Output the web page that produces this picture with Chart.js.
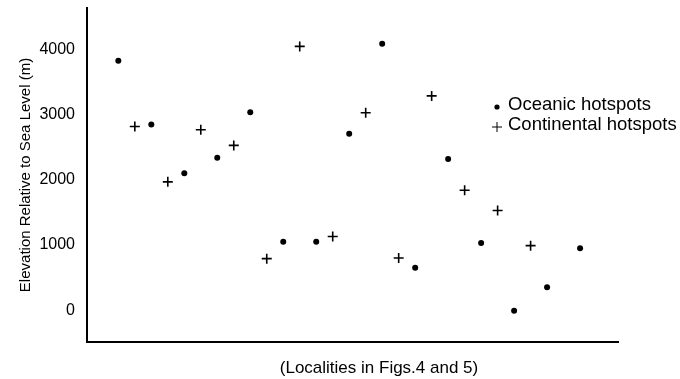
<!DOCTYPE html>
<html>
<head>
<meta charset="utf-8">
<script src="https://cdn.jsdelivr.net/npm/chart.js@4.4.0/dist/chart.umd.min.js"></script>
<style>
  html, body { margin: 0; padding: 0; background: #fff; }
  #chart { display: block; }
</style>
</head>
<body>
<canvas id="chart" width="680" height="379"></canvas>
<script>
// Localities are numbered along the x axis (no tick labels in the original)
var oceanicLocality = [1, 3, 5, 7, 9, 11, 13, 15, 17, 19, 21, 23, 25, 27, 29];
var oceanicElevation = [3830, 2850, 2100, 2340, 3040, 1050, 1050, 2710, 4090, 650, 2320, 1030, -10, 350, 950];
var continentalLocality = [2, 4, 6, 8, 10, 12, 14, 16, 18, 20, 22, 24, 26];
var continentalElevation = [2820, 1970, 2770, 2530, 790, 4050, 1130, 3030, 800, 3290, 1840, 1530, 990];
var elevationTicks = [0, 1000, 2000, 3000, 4000];
var seriesNames = ['Oceanic hotspots', 'Continental hotspots'];
var yTitle = 'Elevation Relative to Sea Level (m)';
var xTitle = '(Localities in Figs.4 and 5)';

var FONT = '"Liberation Sans", Arial, Helvetica, sans-serif';

function toPoints(xs, ys) {
    return xs.map(function (x, i) { return {x: x, y: ys[i]}; });
}

// Legend sits inside the plot on the right, and the x title is a bit off-centre
var annotations = {
    id: 'annotations',
    afterDraw: function (chart) {
        var ctx = chart.ctx;
        ctx.save();
        ctx.fillStyle = '#000';
        ctx.strokeStyle = '#000';
        ctx.textBaseline = 'middle';
        ctx.font = '18.5px ' + FONT;
        chart.data.datasets.forEach(function (ds, i) {
            var y = 105 + i * 20;
            Chart.helpers.drawPoint(ctx, {
                pointStyle: ds.pointStyle,
                radius: ds.pointStyle === 'circle' ? 2.6 : 5,
                borderWidth: ds.pointStyle === 'circle' ? 0 : 1.6,
                rotation: 0
            }, 497, y + 2);
            ctx.textAlign = 'left';
            ctx.fillText(ds.label, 508, y);
        });
        ctx.font = '17px ' + FONT;
        ctx.textAlign = 'center';
        ctx.fillText(xTitle, 379, 368);
        ctx.restore();
    }
};

var ctx = document.getElementById('chart').getContext('2d');
var chart = new Chart(ctx, {
    type: 'scatter',
    data: {
        datasets: [
            {
                label: seriesNames[0],
                data: toPoints(oceanicLocality, oceanicElevation),
                pointStyle: 'circle',
                pointRadius: 3,
                pointBorderWidth: 0,
                backgroundColor: '#000',
                borderColor: '#000'
            },
            {
                label: seriesNames[1],
                data: toPoints(continentalLocality, continentalElevation),
                pointStyle: 'cross',
                pointRadius: 5,
                pointBorderWidth: 1.6,
                backgroundColor: '#000',
                borderColor: '#000'
            }
        ]
    },
    options: {
        responsive: false,
        animation: false,
        layout: {padding: {top: 8, right: 62, bottom: 37, left: 0}},
        plugins: {
            legend: {display: false},
            tooltip: {enabled: false}
        },
        scales: {
            x: {
                type: 'linear',
                min: -0.9,
                max: 31.3,
                grid: {display: false, drawTicks: false},
                border: {display: true, color: '#000', width: 2},
                ticks: {display: false},
                afterFit: function (s) {
                    s.height = 0;
                    s.paddingLeft = 0;
                    s.paddingRight = 0;
                }
            },
            y: {
                type: 'linear',
                min: -490,
                max: 4640,
                grid: {display: false, drawTicks: false},
                border: {display: true, color: '#000', width: 2},
                ticks: {
                    color: '#000',
                    padding: 12,
                    font: {family: FONT, size: 16},
                    callback: function (v) { return String(v); }
                },
                afterBuildTicks: function (s) {
                    s.ticks = elevationTicks.map(function (v) { return {value: v}; });
                },
                title: {
                    display: true,
                    text: yTitle,
                    color: '#000',
                    font: {family: FONT, size: 15},
                    padding: {top: 17, bottom: 0}
                },
                afterFit: function (s) {
                    s.width = 87;
                    s.paddingTop = 0;
                    s.paddingBottom = 0;
                }
            }
        }
    },
    plugins: [annotations]
});
</script>
</body>
</html>
